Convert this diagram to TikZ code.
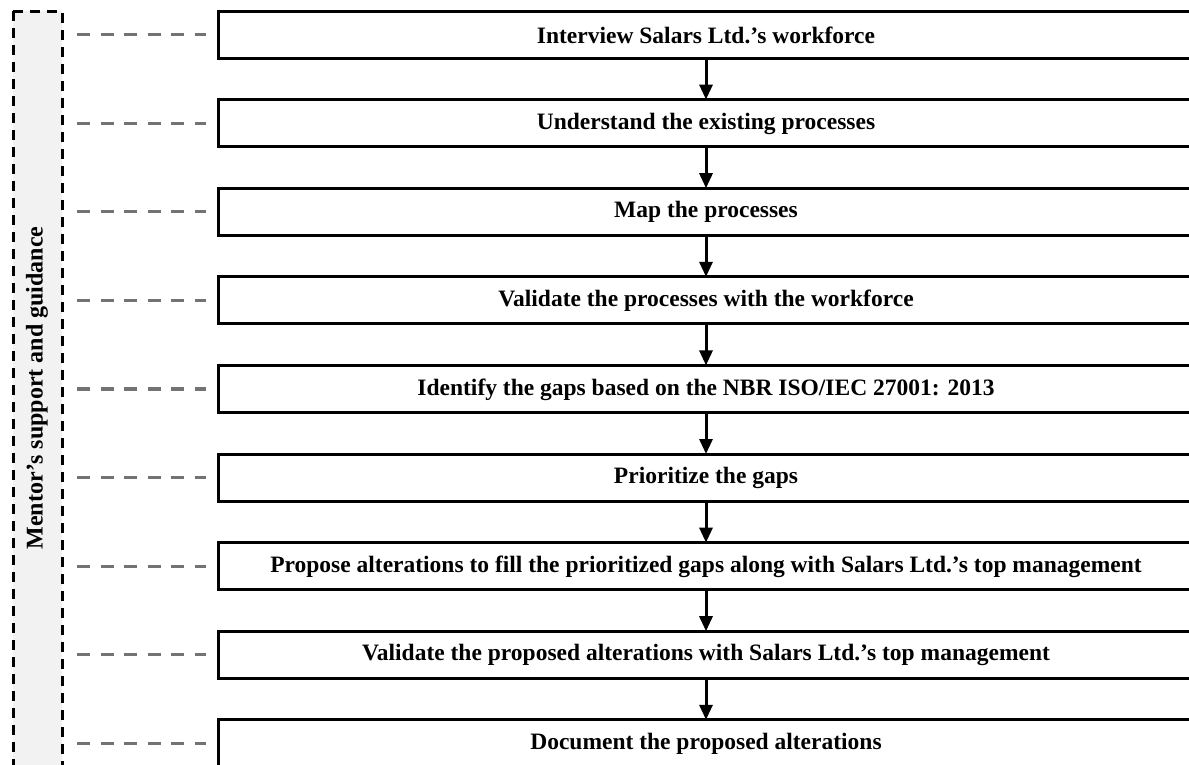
\documentclass[tikz,border=0pt]{standalone}
\usepackage{fontspec}
\setmainfont{Liberation Serif}
\usetikzlibrary{arrows.meta}
\begin{document}
\begin{tikzpicture}[x=1pt,y=-1pt,
  stepbox/.style={draw=black,line width=3pt,fill=white},
  steptext/.style={font=\fontsize{23.5}{28}\selectfont\bfseries,inner sep=0pt},
  flow/.style={draw=black,line width=3pt,-{Triangle[length=15pt,width=13pt]}},
  link/.style={draw=black!55,line width=3.2pt,dash pattern=on 13pt off 10.5pt},
  mentorbox/.style={draw=black,line width=3pt,fill=black!5,dash pattern=on 10pt off 7pt}]
\useasboundingbox (0,0) rectangle (1189,764);
\clip (0,0) rectangle (1189,764);

% Mentor's support column
\path[mentorbox] (13,11) rectangle (62,800);
\node[rotate=90,font=\fontsize{24}{28}\selectfont\bfseries] (mentor) at (37,388) {Mentor’s support and guidance};

% Process steps
\foreach \i/\t in {1/{Interview Salars Ltd.’s workforce},
                   2/{Understand the existing processes},
                   3/{Map the processes},
                   4/{Validate the processes with the workforce},
                   5/{Identify the gaps based on the NBR ISO/IEC 27001: 2013},
                   6/{Prioritize the gaps},
                   7/{Propose alterations to fill the prioritized gaps along with Salars Ltd.’s top management},
                   8/{Validate the proposed alterations with Salars Ltd.’s top management},
                   9/{Document the proposed alterations}}{
  \pgfmathsetmacro{\top}{11+88.6*(\i-1)}
  \path[stepbox] (218,\top) rectangle (1200,\top+47);
  \coordinate (b\i) at (706,\top+47);
  \coordinate (t\i) at (706,\top);
  \coordinate (l\i) at (206,\top+23.5);
  \coordinate (m\i) at (77,\top+23.5);
  \node[steptext] (s\i) at (706,\top+24) {\t};
  \draw[link] (m\i) -- (l\i);
}
\foreach \i [evaluate=\i as \j using int(\i+1)] in {1,...,8}
  \draw[flow] (b\i) -- (t\j);
\end{tikzpicture}
\end{document}
